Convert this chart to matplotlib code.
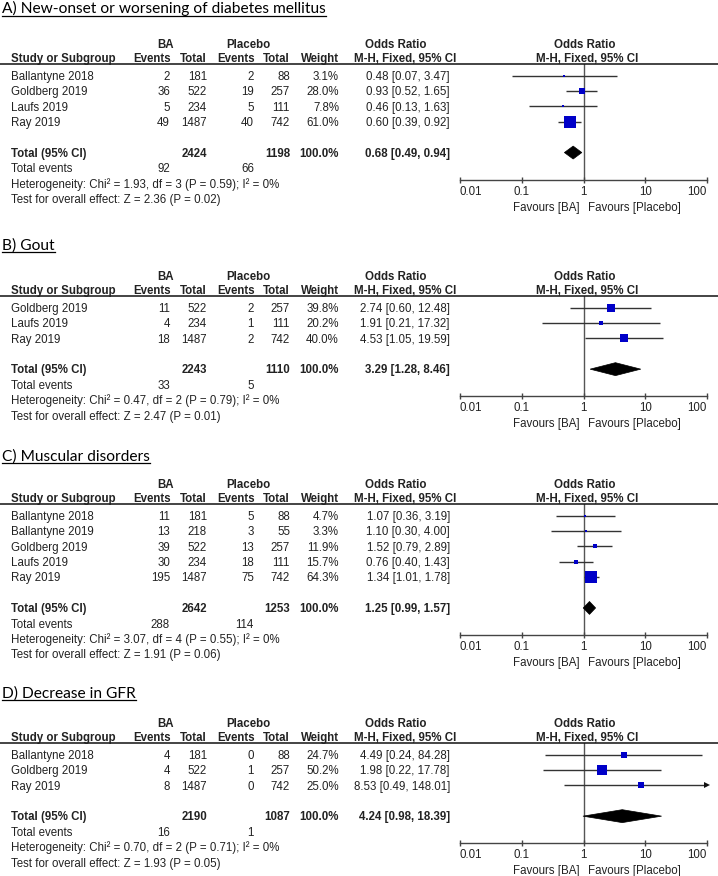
import matplotlib
matplotlib.use("Agg")
import matplotlib.pyplot as plt
from matplotlib.lines import Line2D
from matplotlib.patches import Polygon

plt.rcParams['font.family'] = ['Liberation Sans', 'DejaVu Sans']

# ---------------- data ----------------
titles = ["A) New-onset or worsening of diabetes mellitus", "B) Gout",
          "C) Muscular disorders", "D) Decrease in GFR"]

studies_a = ["Ballantyne 2018", "Goldberg 2019", "Laufs 2019", "Ray 2019"]
ba_events_a = [2, 36, 5, 49]
ba_total_a = [181, 522, 234, 1487]
pl_events_a = [2, 19, 5, 40]
pl_total_a = [88, 257, 111, 742]
weight_a = [3.1, 28.0, 7.8, 61.0]
or_a = [0.48, 0.93, 0.46, 0.60]
lo_a = [0.07, 0.52, 0.13, 0.39]
hi_a = [3.47, 1.65, 1.63, 0.92]
tot_a = [2424, 1198, 92, 66]
pooled_a = [0.68, 0.49, 0.94]
het_a = "Heterogeneity: Chi² = 1.93, df = 3 (P = 0.59); I² = 0%"
test_a = "Test for overall effect: Z = 2.36 (P = 0.02)"

studies_b = ["Goldberg 2019", "Laufs 2019", "Ray 2019"]
ba_events_b = [11, 4, 18]
ba_total_b = [522, 234, 1487]
pl_events_b = [2, 1, 2]
pl_total_b = [257, 111, 742]
weight_b = [39.8, 20.2, 40.0]
or_b = [2.74, 1.91, 4.53]
lo_b = [0.60, 0.21, 1.05]
hi_b = [12.48, 17.32, 19.59]
tot_b = [2243, 1110, 33, 5]
pooled_b = [3.29, 1.28, 8.46]
het_b = "Heterogeneity: Chi² = 0.47, df = 2 (P = 0.79); I² = 0%"
test_b = "Test for overall effect: Z = 2.47 (P = 0.01)"

studies_c = ["Ballantyne 2018", "Ballantyne 2019", "Goldberg 2019", "Laufs 2019", "Ray 2019"]
ba_events_c = [11, 13, 39, 30, 195]
ba_total_c = [181, 218, 522, 234, 1487]
pl_events_c = [5, 3, 13, 18, 75]
pl_total_c = [88, 55, 257, 111, 742]
weight_c = [4.7, 3.3, 11.9, 15.7, 64.3]
or_c = [1.07, 1.10, 1.52, 0.76, 1.34]
lo_c = [0.36, 0.30, 0.79, 0.40, 1.01]
hi_c = [3.19, 4.00, 2.89, 1.43, 1.78]
tot_c = [2642, 1253, 288, 114]
pooled_c = [1.25, 0.99, 1.57]
het_c = "Heterogeneity: Chi² = 3.07, df = 4 (P = 0.55); I² = 0%"
test_c = "Test for overall effect: Z = 1.91 (P = 0.06)"

studies_d = ["Ballantyne 2018", "Goldberg 2019", "Ray 2019"]
ba_events_d = [4, 4, 8]
ba_total_d = [181, 522, 1487]
pl_events_d = [0, 1, 0]
pl_total_d = [88, 257, 742]
weight_d = [24.7, 50.2, 25.0]
or_d = [4.49, 1.98, 8.53]
lo_d = [0.24, 0.22, 0.49]
hi_d = [84.28, 17.78, 148.01]
tot_d = [2190, 1087, 16, 1]
pooled_d = [4.24, 0.98, 18.39]
het_d = "Heterogeneity: Chi² = 0.70, df = 2 (P = 0.71); I² = 0%"
test_d = "Test for overall effect: Z = 1.93 (P = 0.05)"

ticks = [0.01, 0.1, 1, 10, 100]
tick_labels = ["0.01", "0.1", "1", "10", "100"]

panels = [
    dict(studies=studies_a, bae=ba_events_a, bat=ba_total_a, ple=pl_events_a, plt_=pl_total_a,
         w=weight_a, orr=or_a, lo=lo_a, hi=hi_a, tot=tot_a, pooled=pooled_a, het=het_a, test=test_a),
    dict(studies=studies_b, bae=ba_events_b, bat=ba_total_b, ple=pl_events_b, plt_=pl_total_b,
         w=weight_b, orr=or_b, lo=lo_b, hi=hi_b, tot=tot_b, pooled=pooled_b, het=het_b, test=test_b),
    dict(studies=studies_c, bae=ba_events_c, bat=ba_total_c, ple=pl_events_c, plt_=pl_total_c,
         w=weight_c, orr=or_c, lo=lo_c, hi=hi_c, tot=tot_c, pooled=pooled_c, het=het_c, test=test_c),
    dict(studies=studies_d, bae=ba_events_d, bat=ba_total_d, ple=pl_events_d, plt_=pl_total_d,
         w=weight_d, orr=or_d, lo=lo_d, hi=hi_d, tot=tot_d, pooled=pooled_d, het=het_d, test=test_d),
]

# ---------------- layout ----------------
W, H = 718, 876
fig = plt.figure(figsize=(W / 100, H / 100), dpi=100)
renderer = fig.canvas.get_renderer()

TXT = '#222222'
BLUE = '#0000C8'
FONT = 'Liberation Sans'
TFONT = 'Lato'
SP = 15.4
line_ys = [64, 296, 504, 743]
title_bases = [13.3, 249.3, 460.7, 697.3]
X0, X1 = 460, 707


def fx(x):
    return x / W


def fy(y):
    return 1 - y / H


def fit_size(s, family, target, weight='normal', base=10.0):
    t = fig.text(0, 0, s, family=family, fontsize=base, weight=weight)
    w = t.get_window_extent(renderer).width
    t.remove()
    return base * target / w


fs = fit_size(het_a, FONT, 268)
tfs = fit_size(titles[0], TFONT, 325)


def T(x, y, s, ha='left', bold=False):
    fig.text(fx(x), fy(y), s, ha=ha, va='baseline', fontsize=fs,
             family=[FONT, 'DejaVu Sans'], weight='bold' if bold else 'normal', color=TXT)


for p, title, tb, ly in zip(panels, titles, title_bases, line_ys):
    n = len(p['studies'])
    # title with underline
    t = fig.text(fx(2), fy(tb), title, ha='left', va='baseline', fontsize=tfs,
                 family=TFONT, color='black')
    tw = t.get_window_extent(renderer).width
    fig.add_artist(Line2D([fx(2), fx(2 + tw)], [fy(tb + 2.2)] * 2, transform=fig.transFigure,
                          color='black', lw=0.9))
    # header
    h1 = ly - 15.7
    h2 = ly - 1.8
    T(166, h1, "BA", ha='center', bold=True)
    T(248, h1, "Placebo", ha='center', bold=True)
    T(396, h1, "Odds Ratio", ha='center', bold=True)
    T(585, h1, "Odds Ratio", ha='center', bold=True)
    T(11, h2, "Study or Subgroup", bold=True)
    T(171, h2, "Events", ha='right', bold=True)
    T(207, h2, "Total", ha='right', bold=True)
    T(255, h2, "Events", ha='right', bold=True)
    T(290, h2, "Total", ha='right', bold=True)
    T(339, h2, "Weight", ha='right', bold=True)
    T(456, h2, "M-H, Fixed, 95% CI", ha='right', bold=True)
    T(587, h2, "M-H, Fixed, 95% CI", ha='center', bold=True)
    fig.add_artist(Line2D([0, 1], [fy(ly)] * 2, transform=fig.transFigure, color='#111111', lw=1.1))

    def row_base(r):
        return ly + (r + 0.75) * SP + 4.2

    for i in range(n):
        yb = row_base(i)
        T(11, yb, p['studies'][i])
        T(170, yb, str(p['bae'][i]), ha='right')
        T(207, yb, str(p['bat'][i]), ha='right')
        T(254, yb, str(p['ple'][i]), ha='right')
        T(290, yb, str(p['plt_'][i]), ha='right')
        T(339, yb, f"{p['w'][i]:.1f}%", ha='right')
        T(450, yb, f"{p['orr'][i]:.2f} [{p['lo'][i]:.2f}, {p['hi'][i]:.2f}]", ha='right')
    yb = row_base(n + 1)
    T(11, yb, "Total (95% CI)", bold=True)
    T(207, yb, str(p['tot'][0]), ha='right', bold=True)
    T(290, yb, str(p['tot'][1]), ha='right', bold=True)
    T(339, yb, "100.0%", ha='right', bold=True)
    pc, pl_, ph = p['pooled']
    T(450, yb, f"{pc:.2f} [{pl_:.2f}, {ph:.2f}]", ha='right', bold=True)
    yb = row_base(n + 2)
    T(11, yb, "Total events")
    T(170, yb, str(p['tot'][2]), ha='right')
    T(254, yb, str(p['tot'][3]), ha='right')
    T(11, row_base(n + 3), p['het'])
    T(11, row_base(n + 4), p['test'])

    # forest axes
    axis_y = ly + (n + 3.5) * SP
    ax = fig.add_axes([fx(X0), fy(axis_y), (X1 - X0) / W, (axis_y - ly) / H])
    ax.set_xscale('log')
    ax.set_xlim(0.01, 100)
    ax.set_ylim(n + 2.75, -0.75)
    ax.patch.set_visible(False)
    for s in ['top', 'left', 'right']:
        ax.spines[s].set_visible(False)
    ax.spines['bottom'].set_color('#444444')
    ax.spines['bottom'].set_linewidth(1.0)
    ax.set_yticks([])
    ax.set_xticks(ticks)
    ax.set_xticklabels(tick_labels)
    ax.minorticks_off()
    ax.tick_params(axis='x', direction='inout', length=5, width=1, color='#444444',
                   labelsize=fs, labelcolor=TXT, pad=2)
    lbls = ax.get_xticklabels()
    lbls[0].set_horizontalalignment('left')
    lbls[-1].set_horizontalalignment('right')
    ax.axvline(1, color='#555555', lw=1, zorder=1)
    for i in range(n):
        hi_draw = min(p['hi'][i], 100)
        ax.plot([p['lo'][i], hi_draw], [i, i], color='#333333', lw=1, zorder=2,
                solid_capstyle='butt')
        if p['hi'][i] > 100:
            ax.plot([100], [i], marker='>', ms=4.5, color='#111111', mew=0,
                    clip_on=False, zorder=3)
        side = 1.6 + 0.16 * p['w'][i]
        ax.plot([p['orr'][i]], [i], marker='s', ms=side / 1.389, color=BLUE, mew=0, zorder=3)
    r = n + 1
    dh = 0.42
    ax.add_patch(Polygon([(pl_, r), (pc, r - dh), (ph, r), (pc, r + dh)], closed=True,
                         fc='black', ec='black', lw=0.5, zorder=3))
    fb = axis_y + 31
    T(580, fb, "Favours [BA]", ha='right')
    T(588, fb, "Favours [Placebo]", ha='left')

fig.savefig("out.png", dpi=100)
